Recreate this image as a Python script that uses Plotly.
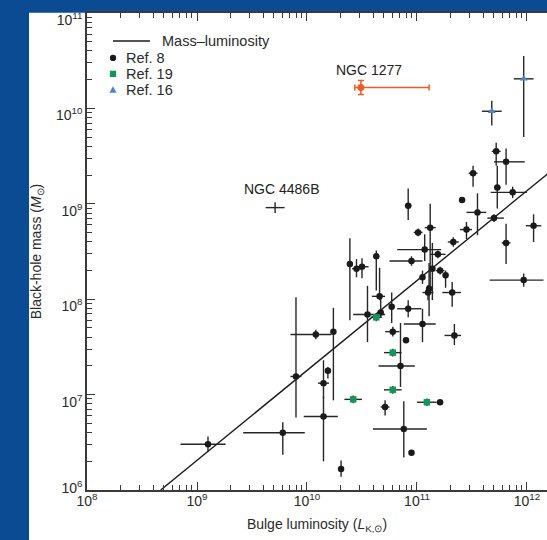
import numpy as np
import plotly.graph_objects as go

# ---------------- data (log10 values, errors in dex) ----------------
# Ref. 8 (black circles)
ref8_logL = [9.10, 9.78, 9.90, 10.08, 10.24, 10.19, 10.15, 10.15, 10.31, 10.55,
             10.67, 10.77, 10.92, 10.78, 10.90, 10.85, 11.05, 10.71, 10.88, 10.95,
             11.21, 11.34, 10.92, 11.01, 11.12, 11.07, 10.95, 11.19, 10.39, 10.45,
             10.50, 10.63, 10.66, 11.14, 11.05, 11.11, 11.10, 11.21, 11.26, 11.32,
             11.33, 11.45, 11.41, 11.51, 11.55, 11.70, 11.72, 11.81, 11.73, 11.87,
             12.06, 11.81, 11.97]
ref8_logM = [6.48, 6.60, 7.19, 7.63, 7.66, 7.25, 7.12, 6.77, 6.22, 7.84,
             7.86, 7.92, 7.90, 7.66, 7.57, 7.30, 7.74, 6.87, 6.64, 6.39,
             6.92, 7.62, 8.98, 8.70, 8.75, 8.52, 8.40, 8.47, 8.37, 8.32,
             8.34, 8.45, 8.03, 8.32, 8.23, 8.11, 8.07, 8.30, 8.25, 8.07,
             8.60, 8.73, 9.04, 9.32, 8.91, 8.85, 9.55, 9.44, 9.17, 9.12,
             8.77, 8.59, 8.20]
ref8_xm = [0.25, 0.36, 0.05, 0.23, 0.00, 0.00, 0.05, 0.18, 0.00, 0.13,
           0.03, 0.00, 0.10, 0.07, 0.00, 0.20, 0.17, 0.04, 0.28, 0.00,
           0.00, 0.09, 0.03, 0.04, 0.05, 0.25, 0.20, 0.07, 0.00, 0.04,
           0.06, 0.00, 0.07, 0.00, 0.00, 0.00, 0.05, 0.04, 0.00, 0.09,
           0.05, 0.06, 0.00, 0.04, 0.10, 0.06, 0.04, 0.11, 0.03, 0.20,
           0.07, 0.04, 0.31]
ref8_xp = [0.16, 0.20, 0.05, 0.14, 0.00, 0.00, 0.05, 0.13, 0.00, 0.16,
           0.03, 0.00, 0.12, 0.06, 0.00, 0.13, 0.12, 0.04, 0.21, 0.00,
           0.00, 0.06, 0.03, 0.04, 0.05, 0.15, 0.10, 0.07, 0.00, 0.04,
           0.06, 0.00, 0.05, 0.00, 0.00, 0.00, 0.05, 0.04, 0.00, 0.08,
           0.05, 0.05, 0.00, 0.04, 0.08, 0.09, 0.04, 0.17, 0.03, 0.13,
           0.07, 0.04, 0.18]
ref8_ym = [0.08, 0.23, 0.43, 0.05, 0.72, 0.08, 0.16, 0.47, 0.08, 0.29,
           0.05, 0.17, 0.09, 0.05, 0.00, 0.22, 0.19, 0.09, 0.30, 0.00,
           0.00, 0.10, 0.15, 0.04, 0.65, 0.12, 0.05, 0.04, 0.59, 0.09,
           0.12, 0.36, 0.04, 0.33, 0.07, 0.29, 0.08, 0.04, 0.13, 0.15,
           0.05, 0.10, 0.00, 0.14, 0.24, 0.04, 0.15, 0.24, 0.22, 0.06,
           0.17, 0.22, 0.07]
ref8_yp = [0.08, 0.11, 0.83, 0.05, 0.25, 0.04, 0.24, 0.21, 0.09, 0.30,
           0.18, 0.15, 0.09, 0.05, 0.00, 0.45, 0.16, 0.07, 0.29, 0.00,
           0.00, 0.12, 0.18, 0.04, 0.25, 0.16, 0.05, 0.04, 0.27, 0.10,
           0.09, 0.06, 0.30, 0.27, 0.07, 0.27, 0.08, 0.04, 0.05, 0.11,
           0.05, 0.08, 0.00, 0.08, 0.20, 0.04, 0.09, 0.14, 0.23, 0.06,
           0.12, 0.20, 0.07]

# Ref. 19 (green squares)
ref19_logL = [10.63, 10.78, 10.78, 10.42, 11.09]
ref19_logM = [7.81, 7.44, 7.05, 6.95, 6.92]
ref19_xe = [0.05, 0.08, 0.08, 0.08, 0.09]
ref19_ye = [0.04, 0.04, 0.04, 0.04, 0.04]

# Ref. 16 (blue triangles)
ref16_logL = [11.97, 11.68]
ref16_logM = [10.31, 9.97]
ref16_xe = [0.09, 0.09]
ref16_ym = [0.61, 0.15]
ref16_yp = [0.24, 0.11]

# NGC 1277 (orange)
n1277_logL = [10.49]
n1277_logM = [10.22]
n1277_xm = [0.055]
n1277_xp = [0.62]
n1277_ye = [0.073]

# NGC 4486B
n4486b_logL = [9.71]
n4486b_logM = [8.96]
n4486b_xe = [0.086]
n4486b_ye = [0.056]

# Mass-luminosity relation (end points)
ml_logL = [8.67, 12.30]
ml_logM = [6.00, 9.42]

x_tick_exp = [8, 9, 10, 11, 12]
y_tick_exp = [6, 7, 8, 9, 10, 11]

legend_labels = ["Mass\u2013luminosity", "Ref. 8", "Ref. 19", "Ref. 16"]

# ---------------- helpers ----------------
def lin(v):
    return 10 ** np.asarray(v, dtype=float)

def eplus(logv, e):
    return lin(logv) * (10 ** np.asarray(e, dtype=float) - 1)

def eminus(logv, e):
    return lin(logv) * (1 - 10 ** (-np.asarray(e, dtype=float)))

FONT = "Liberation Sans, Arial, Helvetica, sans-serif"
EBC = "#262626"
TXT = "#2a2a2a"
C8, C19, C16, C1277 = "#1a1a1a", "#12965a", "#4a86c8", "#ee5a28"

fig = go.Figure()

fig.add_trace(go.Scatter(
    x=lin(ml_logL), y=lin(ml_logM), mode="lines",
    line=dict(color="#1a1a1a", width=1.4), name=legend_labels[0], showlegend=False))

fig.add_trace(go.Scatter(
    x=lin(ref8_logL), y=lin(ref8_logM), mode="markers", name=legend_labels[1], showlegend=False,
    marker=dict(color=C8, size=6.5, symbol="circle"),
    error_x=dict(type="data", symmetric=False, array=eplus(ref8_logL, ref8_xp),
                 arrayminus=eminus(ref8_logL, ref8_xm), color=EBC, thickness=1.4, width=0),
    error_y=dict(type="data", symmetric=False, array=eplus(ref8_logM, ref8_yp),
                 arrayminus=eminus(ref8_logM, ref8_ym), color=EBC, thickness=1.4, width=0)))

fig.add_trace(go.Scatter(
    x=lin(ref19_logL), y=lin(ref19_logM), mode="markers", name=legend_labels[2], showlegend=False,
    marker=dict(color=C19, size=6.5, symbol="square"),
    error_x=dict(type="data", symmetric=False, array=eplus(ref19_logL, ref19_xe),
                 arrayminus=eminus(ref19_logL, ref19_xe), color=EBC, thickness=1.4, width=0),
    error_y=dict(type="data", symmetric=False, array=eplus(ref19_logM, ref19_ye),
                 arrayminus=eminus(ref19_logM, ref19_ye), color=EBC, thickness=1.4, width=0)))

fig.add_trace(go.Scatter(
    x=lin(ref16_logL), y=lin(ref16_logM), mode="markers", name=legend_labels[3], showlegend=False,
    marker=dict(color=C16, size=7, symbol="triangle-up"),
    error_x=dict(type="data", symmetric=False, array=eplus(ref16_logL, ref16_xe),
                 arrayminus=eminus(ref16_logL, ref16_xe), color=EBC, thickness=1.4, width=0),
    error_y=dict(type="data", symmetric=False, array=eplus(ref16_logM, ref16_yp),
                 arrayminus=eminus(ref16_logM, ref16_ym), color=EBC, thickness=1.4, width=0)))

fig.add_trace(go.Scatter(
    x=lin(n1277_logL), y=lin(n1277_logM), mode="markers", name="NGC 1277", showlegend=False,
    marker=dict(color=C1277, size=7, symbol="circle"),
    error_x=dict(type="data", symmetric=False, array=eplus(n1277_logL, n1277_xp),
                 arrayminus=eminus(n1277_logL, n1277_xm), color=C1277, thickness=1.5, width=3),
    error_y=dict(type="data", symmetric=False, array=eplus(n1277_logM, n1277_ye),
                 arrayminus=eminus(n1277_logM, n1277_ye), color=C1277, thickness=1.5, width=3)))

fig.add_trace(go.Scatter(
    x=lin(n4486b_logL), y=lin(n4486b_logM), mode="markers", name="NGC 4486B", showlegend=False,
    marker=dict(color=EBC, size=1, symbol="circle"),
    error_x=dict(type="data", symmetric=False, array=eplus(n4486b_logL, n4486b_xe),
                 arrayminus=eminus(n4486b_logL, n4486b_xe), color=EBC, thickness=1.4, width=0),
    error_y=dict(type="data", symmetric=False, array=eplus(n4486b_logM, n4486b_ye),
                 arrayminus=eminus(n4486b_logM, n4486b_ye), color=EBC, thickness=1.4, width=0)))

fig.add_annotation(x=10.56, y=10.40, xref="x", yref="y", text="NGC 1277", showarrow=False,
                   font=dict(family=FONT, size=14, color="#222"))
fig.add_annotation(x=9.764, y=9.16, xref="x", yref="y", text="NGC 4486B", showarrow=False,
                   font=dict(family=FONT, size=14, color="#222"))

# ---------------- key (drawn in paper coordinates) ----------------
key_y = [0.9414, 0.9059, 0.8724, 0.8389]
key_sx = 0.0565
fig.add_shape(type="line", xref="paper", yref="paper", x0=0.0565, x1=0.137,
              y0=key_y[0], y1=key_y[0], line=dict(color="#1a1a1a", width=1.4))
fig.add_shape(type="circle", xref="paper", yref="paper", x0=key_sx - 0.0068, x1=key_sx + 0.0068,
              y0=key_y[1] - 0.0066, y1=key_y[1] + 0.0066, fillcolor=C8, line_width=0)
fig.add_shape(type="rect", xref="paper", yref="paper", x0=key_sx - 0.0068, x1=key_sx + 0.0068,
              y0=key_y[2] - 0.0066, y1=key_y[2] + 0.0066, fillcolor=C19, line_width=0)
fig.add_shape(type="path", xref="paper", yref="paper",
              path=(f"M {key_sx - 0.0078} {key_y[3] - 0.0063} L {key_sx + 0.0078} {key_y[3] - 0.0063} "
                    f"L {key_sx} {key_y[3] + 0.0073} Z"),
              fillcolor=C16, line_width=0)
key_tx = [0.1587, 0.0803, 0.0803, 0.0803]
for lbl, tx, ty in zip(legend_labels, key_tx, key_y):
    fig.add_annotation(x=tx, y=ty, xref="paper", yref="paper", text=lbl, showarrow=False,
                       xanchor="left", yanchor="middle",
                       font=dict(family=FONT, size=14.5, color=TXT))

# blue page frame (left and top strips)
BLUE = "#0b4b94"
fig.add_shape(type="rect", xref="paper", yref="paper", x0=-0.2, x1=-0.126, y0=-0.2, y1=1.1,
              fillcolor=BLUE, line_width=0, layer="below")
fig.add_shape(type="rect", xref="paper", yref="paper", x0=-0.2, x1=1.1, y0=1.0005, y1=1.1,
              fillcolor=BLUE, line_width=0, layer="below")

def minor_vals(exps):
    out = []
    for e in exps:
        for m in range(2, 10):
            out.append(m * 10 ** e)
    return out

def ylabel(e):
    t = f"10<sup>{e}</sup>"
    # lowest label sits slightly above its tick, as in the original
    return t + "<br>\u00a0" if e == y_tick_exp[0] else t

axis_common = dict(
    type="log", showgrid=False, zeroline=False, showline=True, linecolor="#3a3a3a",
    linewidth=1.5, ticks="inside", ticklen=8, tickwidth=1.3, tickcolor="#3a3a3a",
    tickfont=dict(family=FONT, size=14, color=TXT),
)

fig.update_xaxes(
    **axis_common, range=[8, 12.182], mirror="ticks", ticklabelstandoff=-3,
    tickvals=[10 ** e for e in x_tick_exp],
    ticktext=[f"10<sup>{e}</sup>" for e in x_tick_exp],
    minor=dict(ticks="inside", ticklen=5, tickwidth=1.2, tickcolor="#3a3a3a",
               tickvals=minor_vals(range(7, 13))),
    title=dict(text="Bulge luminosity (<i>L</i><sub>K,\u2299</sub>)",
               font=dict(family=FONT, size=14, color=TXT), standoff=12),
)
fig.update_yaxes(
    **axis_common, range=[6, 11], mirror=False, ticklabelshift=7,
    tickvals=[10 ** e for e in y_tick_exp],
    ticktext=[ylabel(e) for e in y_tick_exp],
    minor=dict(ticks="inside", ticklen=5, tickwidth=1.2, tickcolor="#3a3a3a",
               tickvals=minor_vals(range(5, 11))),
    title=dict(text="Black-hole mass (<i>M</i><sub>\u2299</sub>)",
               font=dict(family=FONT, size=14, color=TXT), standoff=11),
)

fig.update_layout(
    width=547, height=540,
    margin=dict(l=87, r=0, t=13, b=50),
    paper_bgcolor="white", plot_bgcolor="white",
    font=dict(family=FONT, size=14, color=TXT),
    showlegend=False,
)

fig.write_html("out.html", config={"displayModeBar": False})
